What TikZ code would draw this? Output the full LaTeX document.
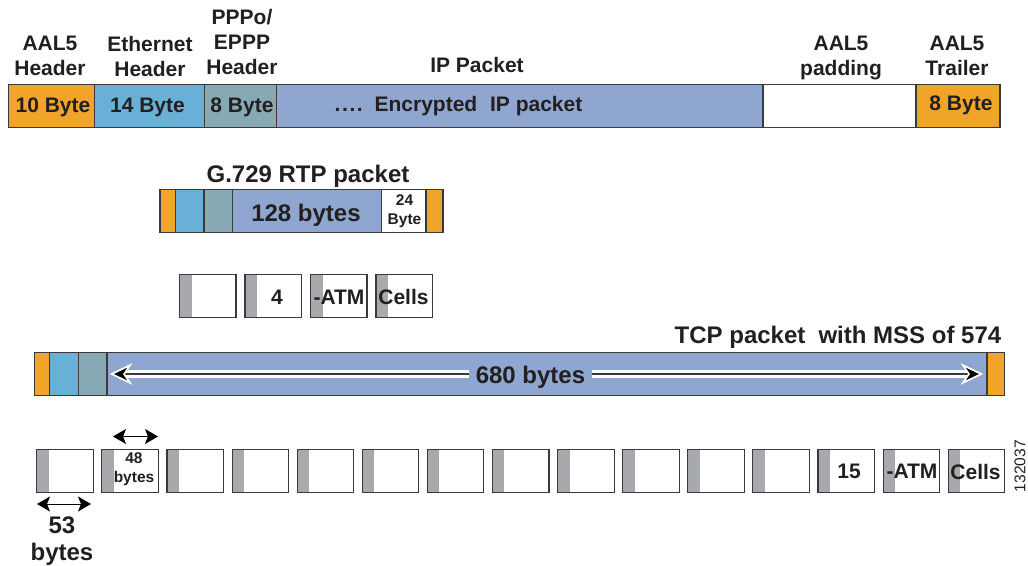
\documentclass[tikz,border=0pt]{standalone}
\usepackage{fontspec}
\setmainfont{Liberation Sans}
\usetikzlibrary{positioning,arrows.meta}

\definecolor{aalorange}{HTML}{F0A42A}
\definecolor{ethblue}{HTML}{69B0D6}
\definecolor{pppteal}{HTML}{86A9B5}
\definecolor{ipblue}{HTML}{8FA7D0}
\definecolor{bandgray}{HTML}{A7A9AC}
\definecolor{inkdark}{HTML}{231F20}
\definecolor{edgedark}{HTML}{3A3A3C}

\begin{document}
\begin{tikzpicture}[
      x=1pt, y=-1pt,
      node distance=0pt,
      txt/.style   = {font=\fontsize{21}{25}\selectfont\bfseries, text=inkdark,
                      align=center, inner sep=0pt},
      big/.style   = {txt, font=\fontsize{24}{27}\selectfont\bfseries},
      small/.style = {txt, font=\fontsize{15.5}{19}\selectfont\bfseries},
      seg/.style   = {rectangle, draw=edgedark, line width=1.1pt, inner sep=0pt,
                      outer sep=0pt, minimum height=42.5pt},
      aal/.style   = {seg, fill=aalorange},
      eth/.style   = {seg, fill=ethblue},
      ppp/.style   = {seg, fill=pppteal},
      ip/.style    = {seg, fill=ipblue},
      pad/.style   = {seg, fill=white},
      cell/.style  = {seg, fill=white, minimum width=56.5pt,
                      path picture={\fill[bandgray] (path picture bounding box.south west)
                        rectangle ([xshift=12pt]path picture bounding box.north west);}},
      span/.style  = {{Stealth[length=13pt,width=15pt,inset=3pt]}-{Stealth[length=13pt,width=15pt,inset=3pt]},
                      line width=1pt, black},
      whitearrow/.style = {{Stealth[length=22pt,width=21pt,inset=7pt,line width=1.6pt,color=white,fill=black]}-,
                      draw=edgedark, line width=2pt,
                      preaction={draw=white, line width=7.5pt}}
    ]
    \useasboundingbox (0,0) rectangle (1028,565);

    % AAL5 frame
    \node[aal, minimum width=86pt, anchor=west] (aalhdr) at (8.5,106) {};
    \node[eth, minimum width=110pt, right=of aalhdr] (ethhdr) {};
    \node[ppp, minimum width=72pt, right=of ethhdr] (ppphdr) {};
    \node[ip, minimum width=486.5pt, right=of ppphdr] (ipdata) {};
    \node[pad, minimum width=153pt, right=of ipdata] (padding) {};
    \node[aal, minimum width=84pt, right=of padding] (trailer) {};

    \node[txt] at (53,107) {10 Byte};
    \node[txt] at (147.5,107) {14 Byte};
    \node[txt] at (242,107.5) {8 Byte};
    \node[txt] at (458.5,106) {.\hspace{1.6pt}.\hspace{1.6pt}.\hspace{1.6pt}.\hspace{4pt} Encrypted\hspace{7pt} IP packet};
    \node[txt] at (961,105.5) {8 Byte};

    \node[txt] at (50,56) {AAL5\\Header};
    \node[txt] at (150,56) {Ethernet\\Header};
    \node[txt] at (242,42) {PPPo/\\EPPP\\Header};
    \node[txt] at (477,64.5) {IP Packet};
    \node[txt] at (841,57.5) {AAL5\\padding};
    \node[txt] at (957,56) {AAL5\\Trailer};

    % G.729 packet
    \node[aal, minimum width=15.5pt, anchor=west] (rtpaal) at (160,211) {};
    \node[eth, minimum width=28.5pt, right=of rtpaal] (rtpeth) {};
    \node[ppp, minimum width=28.5pt, right=of rtpeth] (rtpppp) {};
    \node[ip, minimum width=149pt, right=of rtpppp] (rtpdata) {};
    \node[pad, minimum width=44.5pt, right=of rtpdata] (rtppad) {};
    \node[aal, minimum width=17pt, right=of rtppad] (rtptrl) {};

    \node[big] at (308,176) {G.729 RTP packet};
    \node[big] at (306,215) {128 bytes};
    \node[small] at (404.5,211) {24\\Byte};

    % cells of the G.729 packet
    \node[cell, anchor=west] (atm1) at (179.5,296) {};
    \node[cell, right=9pt of atm1] (atm2) {};
    \node[cell, right=9pt of atm2] (atm3) {};
    \node[cell, right=9pt of atm3] (atm4) {};

    \node[txt] at (277,297) {4};
    \node[txt] at (339,297) {-ATM};
    \node[txt] at (403.5,297) {Cells};

    % TCP packet
    \node[aal, minimum width=15pt, anchor=west] (tcpaal) at (34.5,374) {};
    \node[eth, minimum width=29pt, right=of tcpaal] (tcpeth) {};
    \node[ppp, minimum width=28.5pt, right=of tcpeth] (tcpppp) {};
    \node[ip, minimum width=880pt, right=of tcpppp] (tcpdata) {};
    \node[aal, minimum width=17.5pt, right=of tcpdata] (tcptrl) {};

    \node[big] at (838,337) {TCP packet\hspace{6.5pt} with MSS of 574};
    \node[big, fill=ipblue, inner xsep=7pt, minimum height=16pt] (tcpsize) at (530.5,377.5) {680 bytes};

    \coordinate (tcpleft) at (110,374);
    \coordinate (tcpright) at (983,374);
    \draw[whitearrow] (tcpleft) -- (tcpleft -| tcpsize.west);
    \draw[whitearrow] (tcpright) -- (tcpright -| tcpsize.east);

    % cells of the TCP packet
    \foreach \i in {1,...,15}
      \node[cell] (cell\i) at ({65+65.1*(\i-1)},471) {};

    \node[small] at (134,469) {48\\bytes};
    \node[txt] at (849,471.5) {15};
    \node[txt] at (912,471.5) {-ATM};
    \node[txt] at (975.5,471.5) {Cells};

    \coordinate (payleft) at (113,436.5);
    \coordinate (payright) at (158,436.5);
    \draw[span] (payleft) -- (payright);

    \coordinate (cellleft) at (37,504);
    \coordinate (cellright) at (91,504);
    \draw[span] (cellleft) -- (cellright);

    \node[big] at (62,541.5) {53\\bytes};
    \node[rotate=90, font=\fontsize{15.6}{18}\selectfont, text=inkdark, inner sep=0pt] (figid) at (1020,466) {132037};
  \end{tikzpicture}
\end{document}
